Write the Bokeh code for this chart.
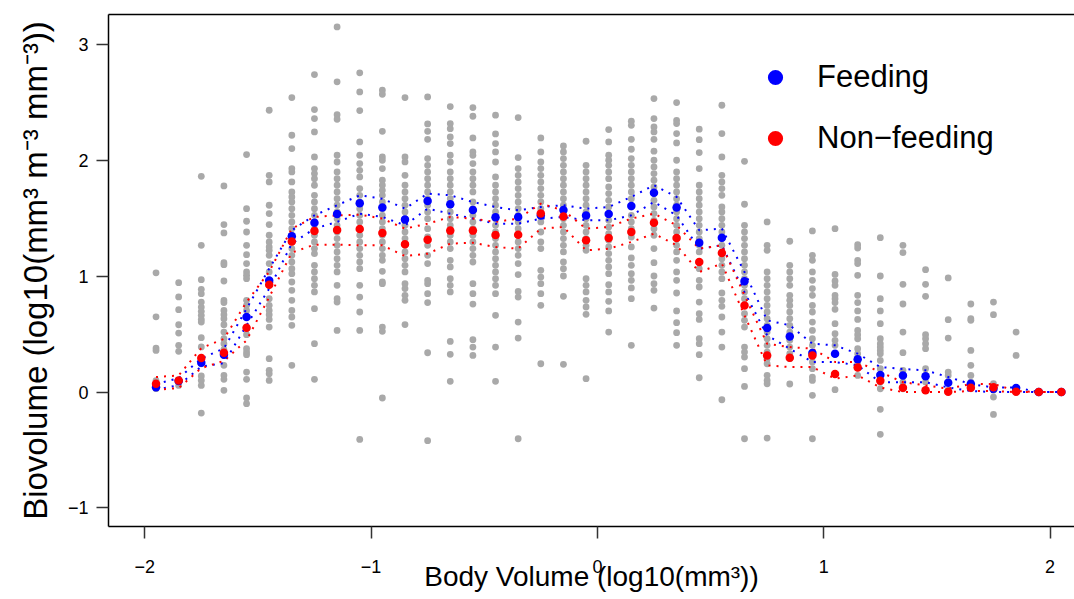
import math
from bokeh.plotting import figure
from bokeh.models import (FixedTicker, LinearAxis, Legend, LegendItem, Range1d)
from bokeh.embed import file_html
from bokeh.resources import INLINE

# ---------------- data ----------------
bins = [-1.95, -1.85, -1.75, -1.65, -1.55, -1.45, -1.35, -1.25, -1.15, -1.05,
        -0.95, -0.85, -0.75, -0.65, -0.55, -0.45, -0.35, -0.25, -0.15, -0.05,
        0.05, 0.15, 0.25, 0.35, 0.45, 0.55, 0.65, 0.75, 0.85, 0.95,
        1.05, 1.15, 1.25, 1.35, 1.45, 1.55, 1.65, 1.75, 1.85, 1.95, 2.05]

feeding_mean = [0.043, 0.095, 0.254, 0.323, 0.648, 0.965, 1.346, 1.464, 1.539, 1.631,
                1.594, 1.490, 1.651, 1.622, 1.573, 1.510, 1.513, 1.525, 1.573, 1.525,
                1.539, 1.608, 1.723, 1.594, 1.291, 1.334, 0.957, 0.553, 0.481, 0.337,
                0.332, 0.283, 0.147, 0.144, 0.136, 0.081, 0.072, 0.029, 0.035, 0.0, 0.0]
feeding_upper = [0.07, 0.12, 0.29, 0.377, 0.72, 1.067, 1.398, 1.527, 1.614, 1.70,
                 1.671, 1.585, 1.715, 1.70, 1.642, 1.599, 1.57, 1.599, 1.614, 1.585,
                 1.599, 1.686, 1.787, 1.686, 1.398, 1.412, 1.037, 0.62, 0.577, 0.418,
                 0.404, 0.332, 0.216, 0.20, 0.188, 0.13, 0.07, 0.04, 0.04, 0.0, 0.0]
feeding_lower = [0.02, 0.06, 0.22, 0.25, 0.577, 0.894, 1.283, 1.412, 1.47, 1.542,
                 1.513, 1.441, 1.585, 1.542, 1.499, 1.455, 1.455, 1.499, 1.513, 1.484,
                 1.484, 1.527, 1.642, 1.527, 1.239, 1.268, 0.864, 0.49, 0.375, 0.26,
                 0.26, 0.231, 0.086, 0.086, 0.086, 0.04, 0.01, 0.0, 0.0, 0.0, 0.0]

nonfeeding_mean = [0.072, 0.100, 0.294, 0.340, 0.556, 0.928, 1.302, 1.392, 1.400, 1.409,
                   1.374, 1.277, 1.317, 1.395, 1.395, 1.357, 1.360, 1.542, 1.516, 1.311,
                   1.331, 1.383, 1.464, 1.331, 1.124, 1.201, 0.749, 0.317, 0.297, 0.317,
                   0.156, 0.213, 0.098, 0.038, 0.017, 0.003, 0.038, 0.041, 0.003, 0.0, 0.0]
nonfeeding_upper = [0.13, 0.144, 0.38, 0.46, 0.778, 1.04, 1.412, 1.513, 1.527, 1.533,
                    1.499, 1.412, 1.455, 1.513, 1.499, 1.47, 1.499, 1.628, 1.57, 1.412,
                    1.426, 1.499, 1.542, 1.441, 1.239, 1.268, 0.836, 0.418, 0.389, 0.375,
                    0.26, 0.26, 0.173, 0.086, 0.058, 0.03, 0.07, 0.07, 0.01, 0.0, 0.0]
nonfeeding_lower = [0.02, 0.035, 0.207, 0.27, 0.447, 0.82, 1.205, 1.274, 1.274, 1.268,
                    1.268, 1.175, 1.196, 1.283, 1.29, 1.253, 1.239, 1.412, 1.426, 1.225,
                    1.239, 1.297, 1.369, 1.268, 1.037, 1.11, 0.663, 0.231, 0.216, 0.216,
                    0.116, 0.144, 0.04, 0.0, 0.0, 0.0, 0.01, 0.01, 0.0, 0.0, 0.0]

# individual observations (grey), one list per bin, same order as `bins`
grey_by_bin = [
    [1.03, 0.65, 0.38, 0.36, 0.10, 0.07, 0.05, 0.03],
    [0.945, 0.822, 0.712, 0.582, 0.51, 0.404, 0.352, 0.096, 0.058],
    [1.864, 1.268, 0.971, 0.888, 0.85, 0.778, 0.735, 0.698, 0.663, 0.628, 0.605, 0.47,
     0.39, 0.288, 0.245, 0.139, 0.101, 0.058, -0.181],
    [1.781, 1.447, 1.375, 1.118, 1.101, 0.96, 0.793, 0.773, 0.706, 0.669, 0.634, 0.582,
     0.519, 0.461, 0.418, 0.366, 0.317, 0.231, 0.145, 0.11, 0.015],
    [2.052, 1.585, 1.476, 1.383, 1.268, 1.187, 1.11, 1.038, 1.009, 0.98, 0.793, 0.75,
     0.706, 0.649, 0.548, 0.496, 0.375, 0.346, 0.323, 0.173, 0.11, -0.051, -0.1],
    [2.435, 1.873, 1.816, 1.614, 1.542, 1.447, 1.355, 1.297, 1.254, 1.225, 1.182, 1.11,
     1.038, 0.966, 0.923, 0.807, 0.75, 0.706, 0.669, 0.628, 0.562, 0.289, 0.188, 0.159, 0.101],
    [2.544, 2.219, 2.104, 1.931, 1.902, 1.816, 1.729, 1.686, 1.643, 1.585, 1.527, 1.47,
     1.412, 1.355, 1.297, 1.24, 1.182, 1.124, 1.066, 1.023, 0.951, 0.879, 0.793, 0.706,
     0.649, 0.577, 0.231],
    [2.743, 2.441, 2.363, 2.248, 2.032, 1.931, 1.888, 1.844, 1.787, 1.7, 1.643, 1.585,
     1.527, 1.47, 1.412, 1.355, 1.297, 1.24, 1.196, 1.095, 1.038, 0.98, 0.922, 0.865,
     0.721, 0.418, 0.11],
    [3.155, 2.68, 2.397, 2.357, 2.046, 1.988, 1.902, 1.844, 1.787, 1.729, 1.671, 1.614,
     1.556, 1.498, 1.441, 1.383, 1.326, 1.268, 1.211, 1.153, 1.095, 1.038, 0.922, 0.807,
     0.778, 0.533],
    [2.758, 2.593, 2.432, 2.161, 2.046, 1.974, 1.916, 1.859, 1.758, 1.7, 1.643, 1.585,
     1.527, 1.47, 1.412, 1.355, 1.297, 1.24, 1.182, 1.124, 1.066, 0.922, 0.821, 0.692,
     0.533, -0.409],
    [2.608, 2.573, 2.253, 2.032, 2.003, 1.931, 1.83, 1.787, 1.743, 1.7, 1.643, 1.585,
     1.527, 1.47, 1.412, 1.355, 1.297, 1.24, 1.182, 1.138, 1.043, 0.951, 0.937, 0.562,
     0.525, -0.051],
    [2.544, 2.032, 1.988, 1.873, 1.787, 1.729, 1.671, 1.614, 1.556, 1.498, 1.441, 1.383,
     1.326, 1.268, 1.211, 1.153, 1.095, 1.038, 0.937, 0.894, 0.836, 0.793, 0.583],
    [2.55, 2.317, 2.253, 2.184, 2.017, 1.959, 1.902, 1.844, 1.787, 1.729, 1.671, 1.614,
     1.556, 1.498, 1.412, 1.34, 1.268, 1.182, 1.11, 0.966, 0.937, 0.85, 0.773, 0.34, -0.42],
    [2.467, 2.32, 2.276, 2.204, 2.147, 2.046, 1.988, 1.902, 1.844, 1.787, 1.729, 1.671,
     1.614, 1.556, 1.498, 1.441, 1.355, 1.297, 1.24, 1.138, 1.081, 0.98, 0.922, 0.865,
     0.438, 0.326, 0.093],
    [2.458, 2.383, 2.196, 2.075, 2.046, 1.974, 1.902, 1.844, 1.787, 1.729, 1.643, 1.585,
     1.527, 1.47, 1.412, 1.355, 1.297, 1.24, 1.182, 1.124, 0.937, 0.85, 0.761, 0.453,
     0.389, 0.317],
    [2.392, 2.23, 2.147, 2.075, 1.988, 1.859, 1.787, 1.729, 1.671, 1.614, 1.556, 1.498,
     1.441, 1.383, 1.326, 1.268, 1.211, 1.153, 1.095, 1.038, 0.98, 0.922, 0.85, 0.663,
     0.389, 0.093],
    [2.372, 2.026, 1.931, 1.873, 1.816, 1.758, 1.7, 1.643, 1.585, 1.527, 1.47, 1.412,
     1.355, 1.297, 1.24, 1.182, 1.11, 1.015, 0.87, 0.821, 0.605, 0.467, -0.403],
    [2.196, 2.075, 1.988, 1.931, 1.873, 1.816, 1.758, 1.7, 1.643, 1.585, 1.527, 1.47,
     1.383, 1.297, 1.24, 1.052, 0.994, 0.937, 0.85, 0.75, 0.245],
    [2.127, 2.075, 2.017, 1.959, 1.902, 1.844, 1.787, 1.729, 1.671, 1.614, 1.556, 1.498,
     1.441, 1.383, 1.326, 1.268, 1.211, 1.124, 1.066, 1.003, 0.827, 0.24],
    [2.167, 1.959, 1.902, 1.844, 1.787, 1.729, 1.671, 1.614, 1.556, 1.498, 1.441, 1.383,
     1.326, 1.268, 1.225, 0.98, 0.922, 0.865, 0.793, 0.735, 0.672, 0.116],
    [2.268, 2.161, 2.046, 2.003, 1.959, 1.902, 1.844, 1.772, 1.715, 1.657, 1.599, 1.542,
     1.484, 1.426, 1.369, 1.311, 1.254, 1.196, 1.138, 1.081, 1.023, 0.928, 0.865, 0.784,
     0.701, 0.519],
    [2.34, 2.305, 2.184, 2.098, 2.017, 1.959, 1.902, 1.844, 1.787, 1.729, 1.671, 1.599,
     1.527, 1.47, 1.412, 1.34, 1.254, 1.159, 1.095, 1.023, 0.966, 0.9, 0.807, 0.404],
    [2.536, 2.363, 2.291, 2.248, 2.184, 2.081, 2.003, 1.945, 1.888, 1.83, 1.772, 1.715,
     1.657, 1.599, 1.542, 1.484, 1.412, 1.355, 1.24, 1.118, 1.003, 0.937, 0.879, 0.726],
    [2.501, 2.348, 2.32, 2.233, 2.153, 2.003, 1.902, 1.844, 1.787, 1.729, 1.671, 1.614,
     1.556, 1.498, 1.441, 1.383, 1.326, 1.268, 1.211, 1.138, 1.038, 0.966, 0.856, 0.701,
     0.6, 0.513, 0.404],
    [2.271, 2.181, 2.069, 1.931, 1.787, 1.729, 1.671, 1.614, 1.556, 1.498, 1.441, 1.383,
     1.326, 1.268, 1.211, 1.124, 1.066, 0.966, 0.908, 0.778, 0.677, 0.628, 0.461, 0.418,
     0.323, 0.124],
    [2.478, 2.233, 2.032, 1.873, 1.816, 1.758, 1.7, 1.599, 1.556, 1.498, 1.441, 1.383,
     1.326, 1.268, 1.211, 1.153, 1.095, 1.038, 0.98, 0.856, 0.793, 0.741, 0.649, 0.519,
     0.389, -0.066],
    [1.994, 1.623, 1.441, 1.383, 1.326, 1.268, 1.211, 1.153, 1.095, 1.038, 0.98, 0.922,
     0.865, 0.807, 0.749, 0.677, 0.62, 0.562, 0.389, 0.346, 0.303, 0.202, 0.049, -0.403],
    [1.47, 1.268, 1.225, 1.038, 0.98, 0.922, 0.865, 0.807, 0.749, 0.692, 0.634, 0.577,
     0.519, 0.461, 0.404, 0.346, 0.289, 0.245, 0.145, 0.101, 0.072, -0.397],
    [1.303, 1.095, 1.038, 0.98, 0.922, 0.836, 0.793, 0.749, 0.692, 0.634, 0.577, 0.519,
     0.447, 0.389, 0.332, 0.289, 0.07],
    [1.392, 1.182, 1.138, 1.038, 0.966, 0.894, 0.836, 0.749, 0.692, 0.605, 0.533, 0.461,
     0.404, 0.346, 0.26, 0.202, 0.13, 0.101, -0.028, -0.403],
    [1.412, 1.017, 0.96, 0.922, 0.836, 0.807, 0.773, 0.715, 0.591, 0.505, 0.447, 0.404,
     0.332, 0.021],
    [1.274, 1.245, 1.138, 1.11, 1.009, 0.836, 0.773, 0.701, 0.628, 0.533, 0.496, 0.461,
     0.375, 0.332, 0.283, 0.245, 0.208, 0.144],
    [1.334, 1.003, 0.807, 0.701, 0.591, 0.461, 0.418, 0.389, 0.36, 0.332, 0.274, 0.202,
     0.144, 0.087, 0.029, -0.149, -0.365],
    [1.268, 1.205, 0.931, 0.761, 0.519, 0.341, 0.188, 0.144, 0.087, 0.029],
    [1.058, 0.931, 0.827, 0.496, 0.461, 0.418, 0.375, 0.202, 0.144, 0.087, 0.015],
    [0.986, 0.626, 0.467, 0.173, 0.144, 0.087, 0.015],
    [0.761, 0.634, 0.62, 0.36, 0.231, 0.144, 0.087, 0.058, 0.029],
    [0.778, 0.669, 0.072, 0.015, -0.043, -0.193],
    [0.519, 0.317, 0.029, 0.0],
    [0.0],
    [0.0],
]

x_ticks = [-2, -1, 0, 1, 2]
y_ticks = [-1, 0, 1, 2, 3]
x_title = "Body Volume (log10(mm³))"
y_title = "Biovolume (log10(mm³ m⁻³ mm⁻³))"
legend_labels = ["Feeding", "Non−feeding"]

# ---------------- figure ----------------
FONT = "Liberation Sans"
p = figure(width=1074, height=599, output_backend="svg", toolbar_location=None,
           x_range=Range1d(-2.160, 2.108), y_range=Range1d(-1.161, 3.262),
           min_border_left=108, min_border_right=0, min_border_top=14,
           min_border_bottom=73)
p.xgrid.visible = False
p.ygrid.visible = False
p.outline_line_color = None
p.background_fill_color = "white"
p.border_fill_color = "white"

def style_axis(ax, ticks, standoff):
    ax.ticker = FixedTicker(ticks=ticks)
    ax.major_label_overrides = {t: (str(t).replace("-", "−")) for t in ticks}
    ax.axis_line_color = "black"
    ax.axis_line_width = 1.5
    ax.major_tick_line_color = "#333333"
    ax.major_tick_line_width = 1.5
    ax.major_tick_out = 12
    ax.major_tick_in = 0
    ax.minor_tick_line_color = None
    ax.major_label_text_font = FONT
    ax.major_label_text_font_size = "18px"
    ax.major_label_text_color = "black"
    ax.major_label_standoff = standoff
    ax.axis_label_text_font = FONT
    ax.axis_label_text_font_style = "normal"
    ax.axis_label_text_color = "black"

xa = p.xaxis[0]
ya = p.yaxis[0]
style_axis(xa, x_ticks, 21)
style_axis(ya, y_ticks, 8)
xa.axis_label = x_title
xa.axis_label_text_font_size = "28px"
xa.axis_label_standoff = -15
ya.axis_label = y_title
ya.axis_label_text_font_size = "33px"
ya.axis_label_standoff = 11

top_axis = LinearAxis(ticker=FixedTicker(ticks=[]), axis_line_color="black",
                      axis_line_width=1.5, major_tick_line_color=None,
                      minor_tick_line_color=None, major_label_text_font_size="0px")
p.add_layout(top_axis, "above")

# grey observations
gx, gy = [], []
for b, vals in zip(bins, grey_by_bin):
    for v in vals:
        gx.append(b)
        gy.append(v)
p.scatter(gx, gy, size=6.8, color="#A9A9A9", line_color=None)

# dotted bounds
for ys, col in [(feeding_upper, "blue"), (feeding_lower, "blue"),
                (nonfeeding_upper, "red"), (nonfeeding_lower, "red")]:
    p.line(bins, ys, line_color=col, line_width=2, line_dash="2 6")

# means
r_feed = p.scatter(bins, feeding_mean, size=8.5, color="blue", line_color=None)
r_non = p.scatter(bins, nonfeeding_mean, size=8.5, color="red", line_color=None)

legend = Legend(items=[LegendItem(label=legend_labels[0], renderers=[r_feed]),
                       LegendItem(label=legend_labels[1], renderers=[r_non])],
                location=(648, 369), glyph_width=38, glyph_height=38, spacing=23,
                label_standoff=23, padding=0, margin=0,
                border_line_color=None, background_fill_alpha=0,
                label_text_font=FONT, label_text_font_size="31px",
                label_text_color="black")
p.add_layout(legend)

open("out.html", "w").write(file_html(p, INLINE))
